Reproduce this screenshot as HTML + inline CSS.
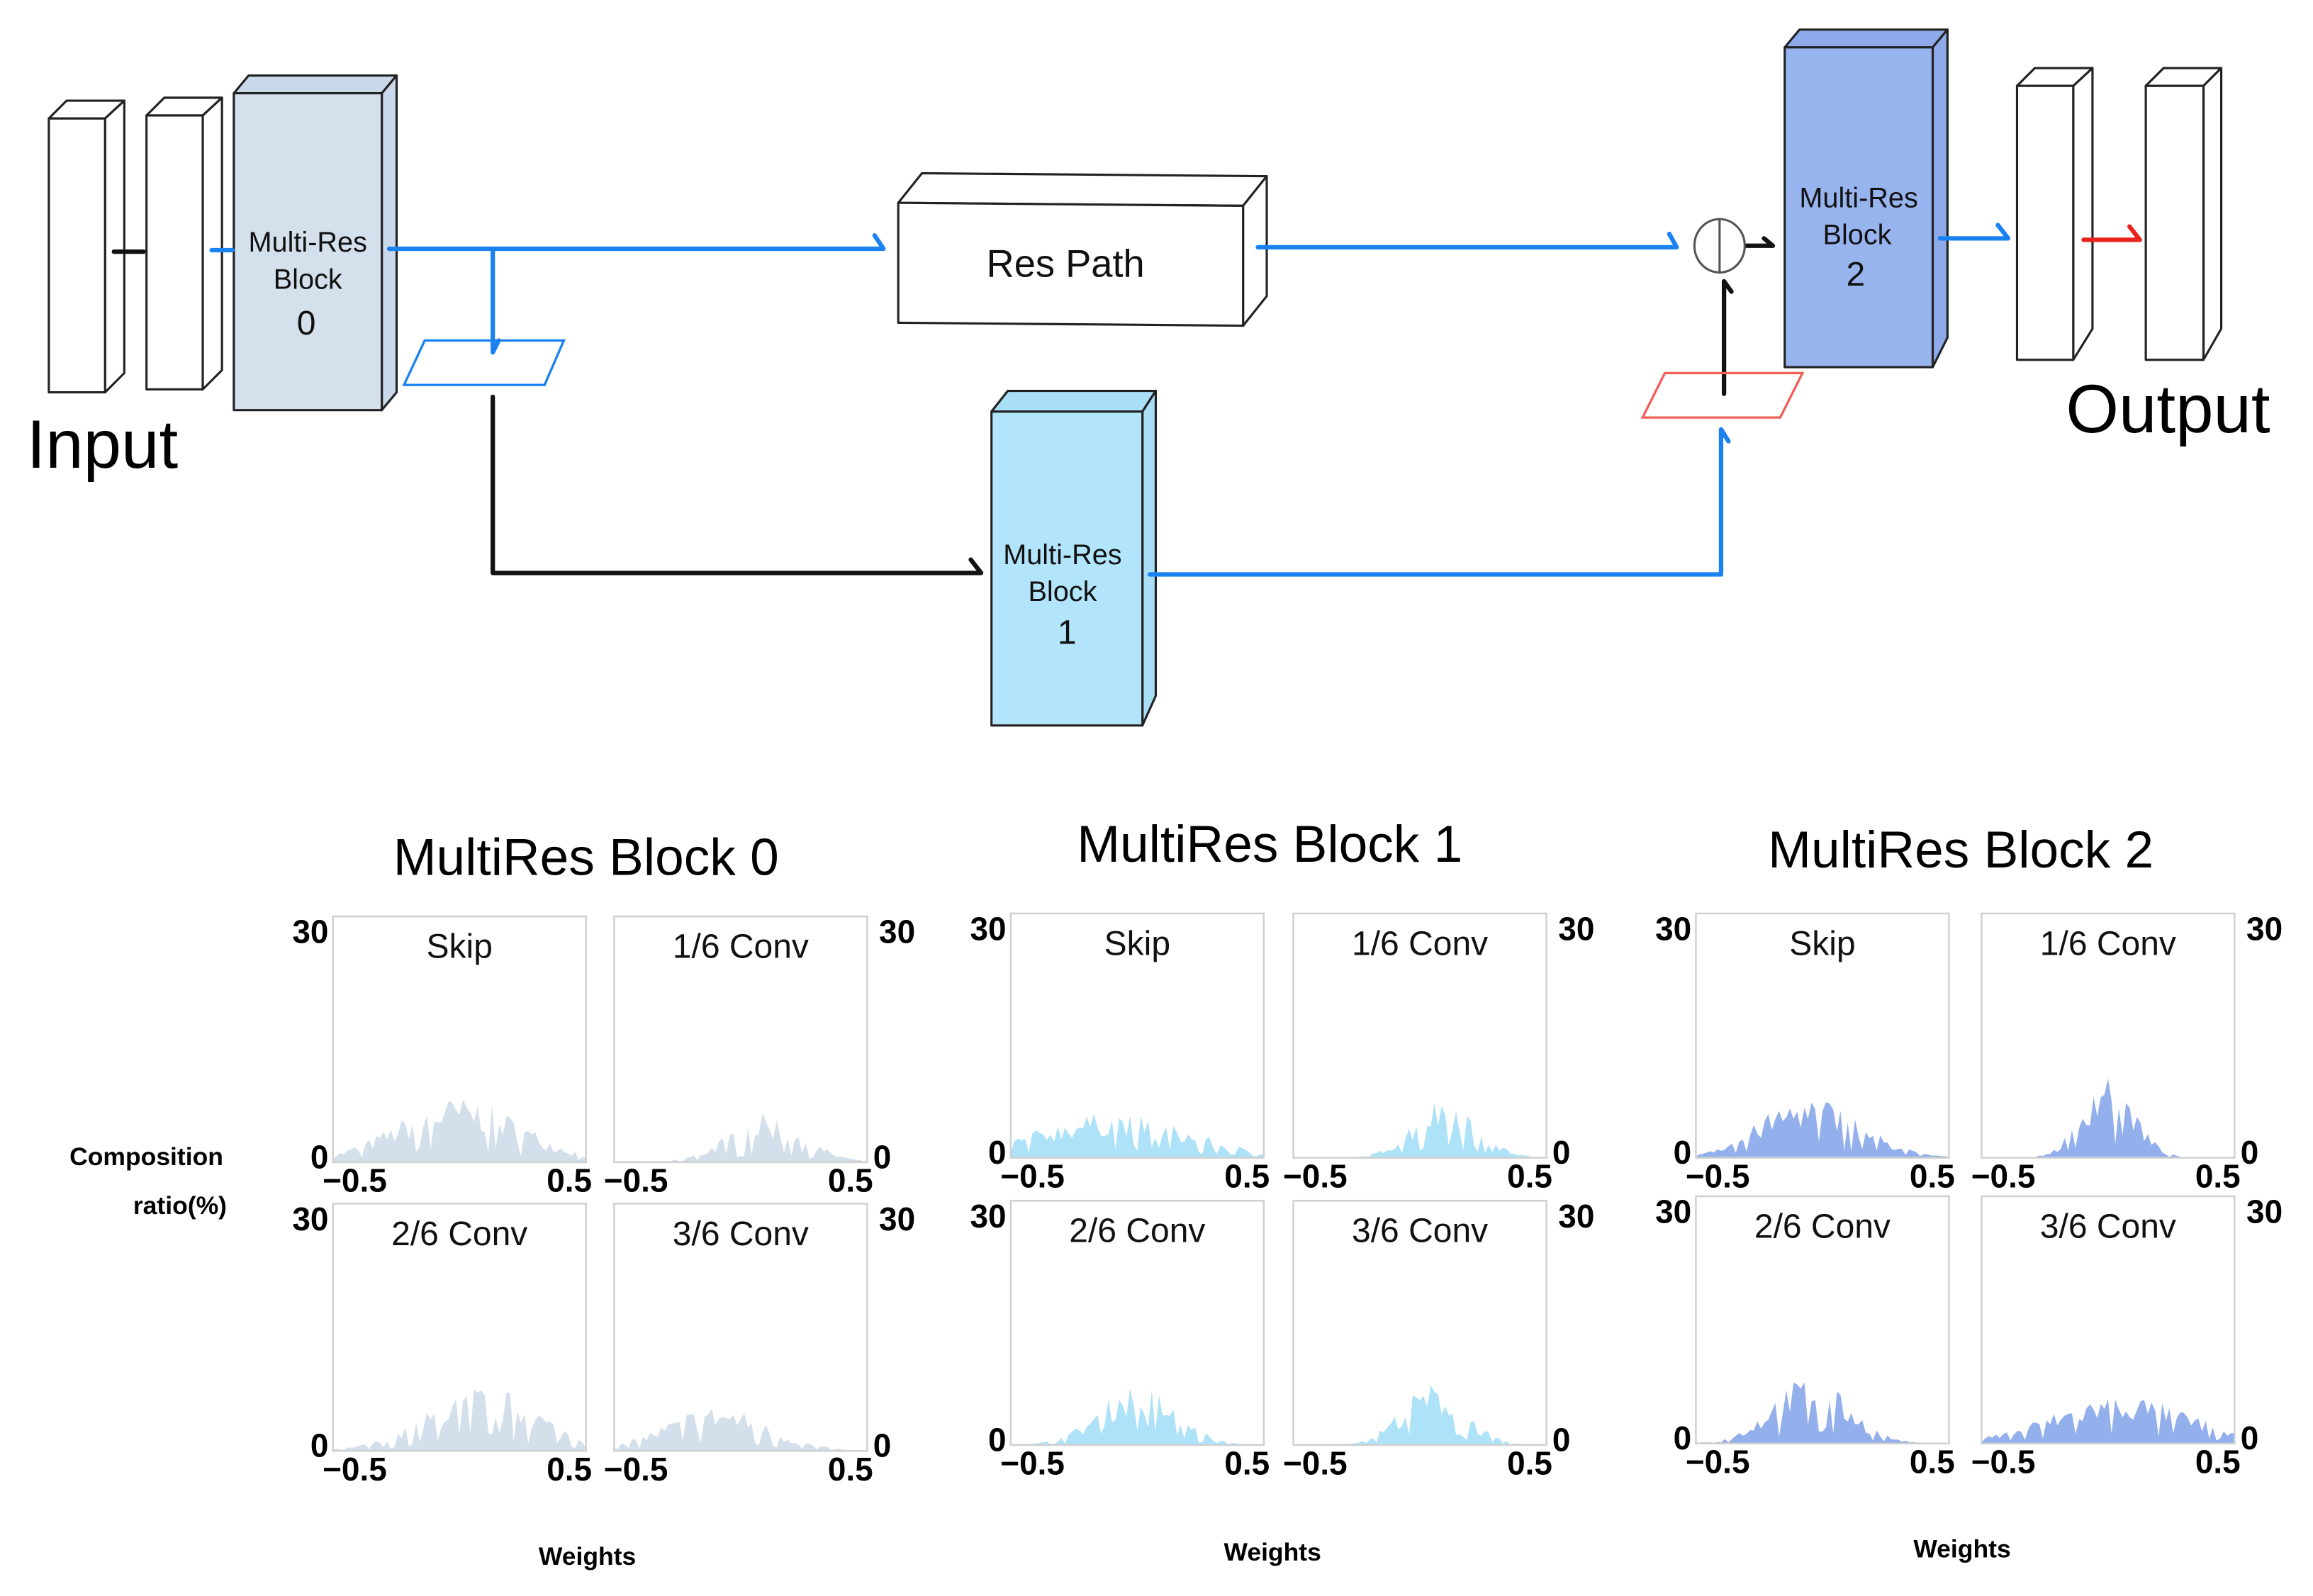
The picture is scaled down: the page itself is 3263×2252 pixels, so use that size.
<!DOCTYPE html>
<html><head><meta charset="utf-8"><style>
html,body{margin:0;padding:0;background:#fff;}
svg{display:block;}
text{font-family:"Liberation Sans",sans-serif;}
.b{font-weight:bold;font-size:22px;}
.t{font-size:23px;}
</style></head><body>
<svg id="s" width="3263" height="2252" viewBox="0 0 1563 1078" preserveAspectRatio="none" xmlns="http://www.w3.org/2000/svg">
<rect width="1563" height="1078" fill="#fff"/>
<g stroke="#222" stroke-width="1.5" stroke-linejoin="round">
<!-- input slabs -->
<polygon points="33,80 45,68 84,68 71,80" fill="#fff"/>
<polygon points="71,80 84,68 84,252 71,265" fill="#fff"/>
<rect x="33" y="80" width="38" height="185" fill="#fff"/>
<polygon points="99,78 111,66 150,66 137,78" fill="#fff"/>
<polygon points="137,78 150,66 150,250 137,263" fill="#fff"/>
<rect x="99" y="78" width="38" height="185" fill="#fff"/>
<!-- block0 -->
<polygon points="158,63 168,51 268,51 258,63" fill="#c9d8ea"/>
<polygon points="258,63 268,51 268,265 258,277" fill="#c9d8ea"/>
<rect x="158" y="63" width="100" height="214" fill="#d5e0ed"/>
<!-- res path -->
<polygon points="607,137 623,117 856,119 840,139" fill="#fff"/>
<polygon points="840,139 856,119 856,200 840,220" fill="#fff"/>
<polygon points="607,137 840,139 840,220 607,218" fill="#fff"/>
<!-- block1 -->
<polygon points="670,278 681,264 781,264 772,278" fill="#a9def7"/>
<polygon points="772,278 781,264 781,470 772,490" fill="#a9def7"/>
<rect x="670" y="278" width="102" height="212" fill="#b2e5fb"/>
<!-- block2 -->
<polygon points="1206,32 1216,20 1316,20 1306,32" fill="#8eaaea"/>
<polygon points="1306,32 1316,20 1316,228 1306,248" fill="#8eaaea"/>
<rect x="1206" y="32" width="100" height="216" fill="#98b4ef"/>
<!-- output slabs -->
<polygon points="1363,58 1375,46 1414,46 1401,58" fill="#fff"/>
<polygon points="1401,58 1414,46 1414,222 1401,243" fill="#fff"/>
<rect x="1363" y="58" width="38" height="185" fill="#fff"/>
<polygon points="1450,58 1462,46 1501,46 1489,58" fill="#fff"/>
<polygon points="1489,58 1501,46 1501,222 1489,243" fill="#fff"/>
<rect x="1450" y="58" width="39" height="185" fill="#fff"/>
</g>
<!-- connectors -->
<g fill="none" stroke-width="3" stroke-linecap="round" stroke-linejoin="round">
<line x1="77" y1="170" x2="97" y2="170" stroke="#111"/>
<line x1="143" y1="169" x2="157" y2="169" stroke="#1a82f0"/>
<path d="M263,168 H597 L591,159" stroke="#1a82f0"/>
<path d="M333,168 V238 L337,230" stroke="#1a82f0"/>
<path d="M333,268 V387 H663 L656,378" stroke="#111"/>
<path d="M850,167 H1133 L1128,158" stroke="#1a82f0"/>
<path d="M1180,166 H1198 L1192,161" stroke="#111"/>
<path d="M1165,266 V190 L1170,197" stroke="#111"/>
<path d="M777,388 H1163 V290 L1168,298" stroke="#1a82f0"/>
<path d="M1311,161 H1357 L1350,152" stroke="#1a82f0"/>
<path d="M1408,162 H1446 L1439,153" stroke="#e8231c"/>
</g>
<polygon points="287,230 381,230 368,260 273,260" fill="none" stroke="#1a82f0" stroke-width="1.6"/>
<polygon points="1125,252 1218,252 1203,282 1110,282" fill="none" stroke="#f06058" stroke-width="1.6"/>
<ellipse cx="1162" cy="166" rx="17" ry="18" fill="#fff" stroke="#555" stroke-width="1.5"/>
<line x1="1162" y1="148" x2="1162" y2="184" stroke="#555" stroke-width="1.5"/>
<!-- labels -->
<g fill="#111" text-anchor="middle">
<text x="208" y="170" font-size="19">Multi-Res</text>
<text x="208" y="195" font-size="19">Block</text>
<text x="207" y="226" font-size="23">0</text>
<text x="720" y="187" font-size="26">Res Path</text>
<text x="718" y="381" font-size="19">Multi-Res</text>
<text x="718" y="406" font-size="19">Block</text>
<text x="721" y="435" font-size="23">1</text>
<text x="1256" y="140" font-size="19">Multi-Res</text>
<text x="1255" y="165" font-size="19">Block</text>
<text x="1254" y="193" font-size="23">2</text>
</g>
<text x="18" y="316" font-size="46" fill="#000">Input</text>
<text x="1396" y="292" font-size="46" fill="#000">Output</text>
<g text-anchor="middle" fill="#000" font-size="35">
<text x="396" y="591">MultiRes Block 0</text>
<text x="858" y="582">MultiRes Block 1</text>
<text x="1325" y="586">MultiRes Block 2</text>
</g>
<g font-weight="bold" font-size="17" fill="#000">
<text x="47" y="787">Composition</text>
<text x="90" y="820">ratio(%)</text>
<text x="364" y="1057">Weights</text>
<text x="827" y="1054">Weights</text>
<text x="1293" y="1052">Weights</text>
</g>
<g id="charts"></g>
</svg>
<script>
(function(){
var NS="http://www.w3.org/2000/svg",g=document.getElementById("charts");
var seed=7;function r(){seed=(seed*16807)%2147483647;return seed/2147483647;}
function el(n,a,t){var e=document.createElementNS(NS,n);for(var k in a)e.setAttribute(k,a[k]);if(t)e.textContent=t;g.appendChild(e);return e;}
var blocks=[
 {xs:[225,415],ys:[[619,785],[813,980]],col:"#d3dfeb",title:[["Skip",[0,0.1,40,0.5]],["1/6 Conv",[0.1,0.1,30,0.3]],["2/6 Conv",[0.1,0.1,40,0.45]],["3/6 Conv",[-0.1,0.1,28,0.4]]]},
 {xs:[683,874],ys:[[617,782],[811,976]],col:"#aee2f8",title:[["Skip",[-0.1,0.1,28,0.6]],["1/6 Conv",[0.1,0.1,38,0.25]],["2/6 Conv",[0,0.1,38,0.3]],["3/6 Conv",[0.05,0.1,38,0.25]]]},
 {xs:[1146,1339],ys:[[617,782],[808,975]],col:"#93afec",title:[["Skip",[-0.05,0.1,38,0.4]],["1/6 Conv",[0,0.1,55,0.2]],["2/6 Conv",[-0.05,0.1,42,0.3]],["3/6 Conv",[0.05,0.1,30,0.55]]]}
];
blocks.forEach(function(b){
 var w=171;
 for(var row=0;row<2;row++)for(var col=0;col<2;col++){
  var x=b.xs[col],y0=b.ys[row][0],y1=b.ys[row][1],tt=b.title[row*2+col],p=tt[1];
  var d="M"+x+","+y1;
  var n=70;
  for(var i=0;i<=n;i++){
   var t=i/n-0.5;var h=p[2]*Math.exp(-Math.pow((t-p[0])/p[3],2)*2);
   h=h*(0.5+0.6*r());if(r()<0.2)h*=0.3;
   d+=" L"+(x+i*w/n).toFixed(1)+","+(y1-h).toFixed(1);
  }
  d+=" L"+(x+w)+","+y1+" Z";
  el("path",{d:d,fill:b.col});
  el("rect",{x:x,y:y0,width:w,height:y1-y0,fill:"none",stroke:"#d0d0d0","stroke-width":1.2});
  el("text",{x:x+w/2,y:y0+28,"text-anchor":"middle","font-size":23,fill:"#111"},tt[0]);
  el("text",{x:x-7,y:y1+20,"font-size":22,"font-weight":"bold",fill:"#000"},"\u22120.5");
  el("text",{x:x+w-10,y:y1+20,"text-anchor":"end","font-size":22,"font-weight":"bold",fill:"#000","dx":14},"0.5");
  if(col==0){
   el("text",{x:x-3,y:y0+18,"text-anchor":"end","font-size":22,"font-weight":"bold",fill:"#000"},"30");
   el("text",{x:x-3,y:y1+4,"text-anchor":"end","font-size":22,"font-weight":"bold",fill:"#000"},"0");
  } else {
   el("text",{x:x+w+8,y:y0+18,"font-size":22,"font-weight":"bold",fill:"#000"},"30");
   el("text",{x:x+w+4,y:y1+4,"font-size":22,"font-weight":"bold",fill:"#000"},"0");
  }
 }
});
})();
</script>
</body></html>
